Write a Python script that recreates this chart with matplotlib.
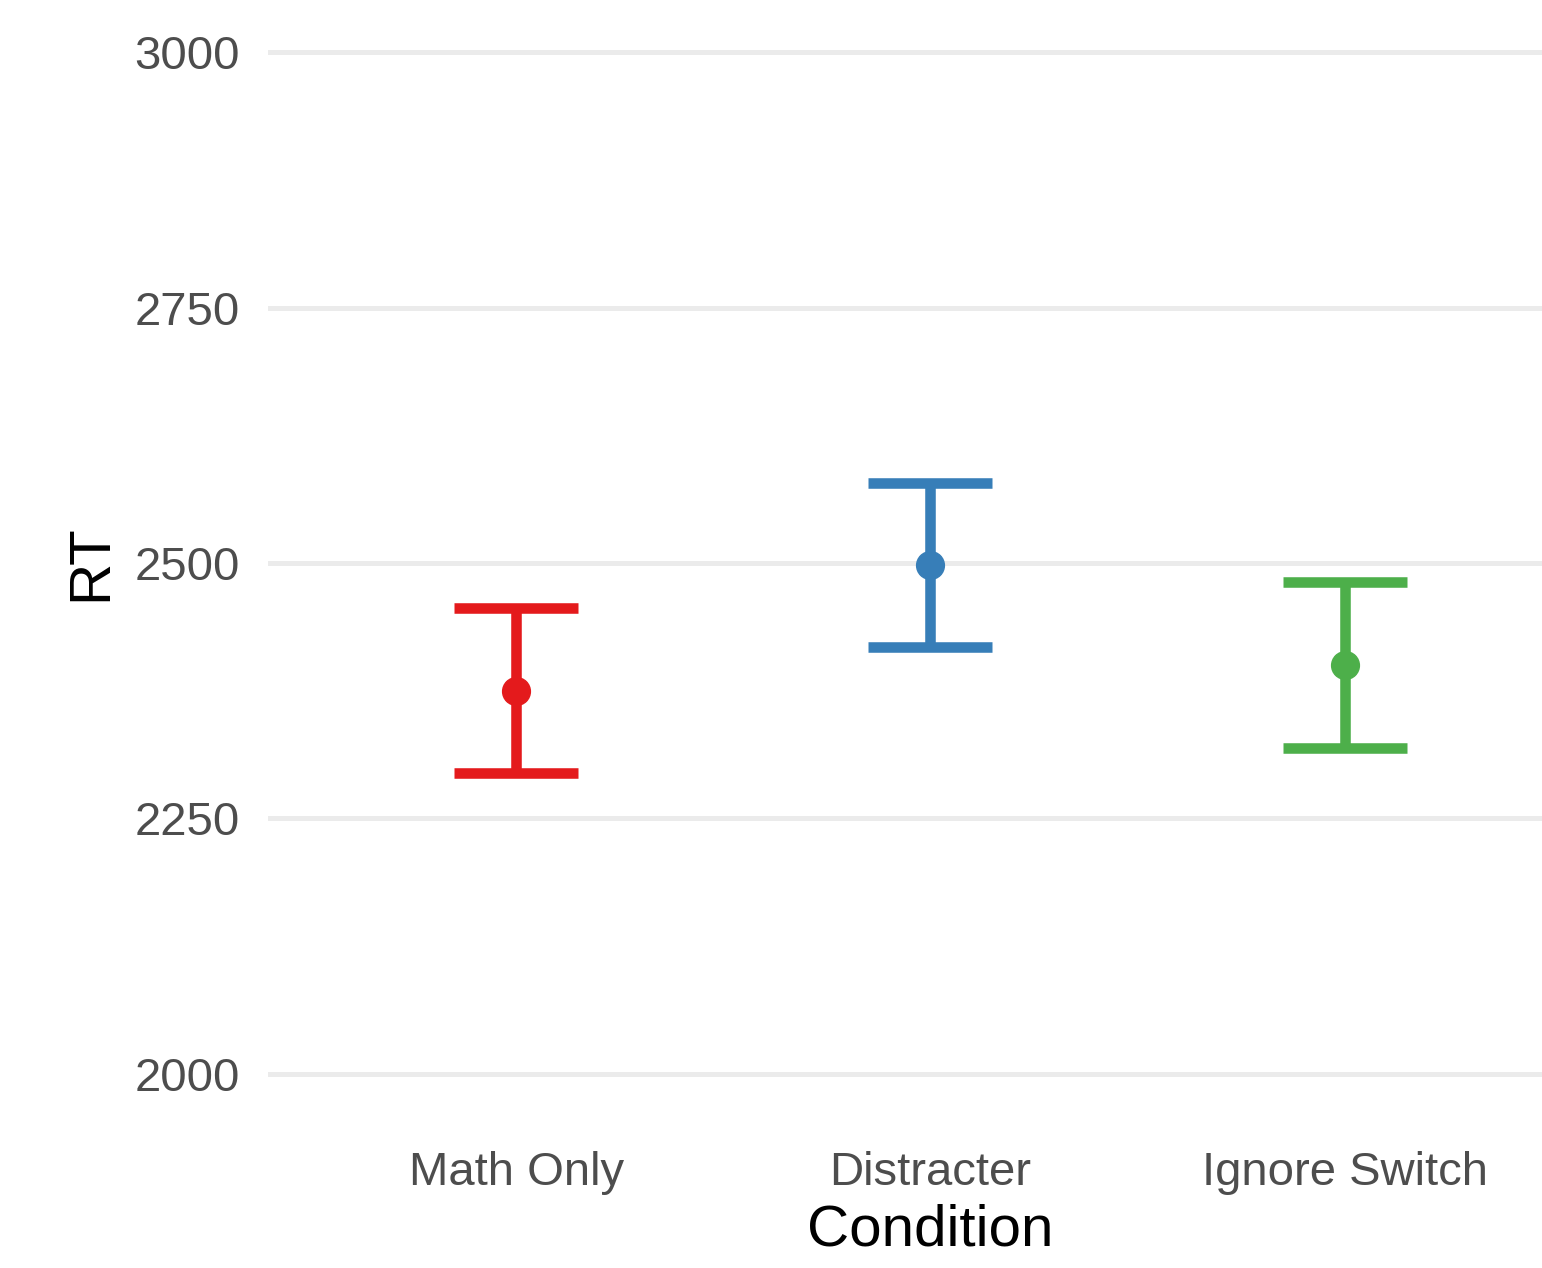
import numpy as np
import matplotlib.pyplot as plt

plt.rcParams['font.family'] = ['Liberation Sans', 'DejaVu Sans']

# mean RT and standard error per condition
conditions = ['Math Only', 'Distracter', 'Ignore Switch']
rt_mean = [2375, 2498, 2400]
rt_se = [81, 80, 81]
colors = ['#E41A1C', '#377EB8', '#4DAF4A']
yticks = [2000, 2250, 2500, 2750, 3000]

fig = plt.figure(figsize=(15.42, 12.68), dpi=100)
# panel runs a little past the right edge of the canvas
ax = fig.add_axes([268 / 1542, 1 - 1125 / 1268, (1593 - 268) / 1542, 1124 / 1268])

x = np.arange(1, len(conditions) + 1)
for xi, m, se, c in zip(x, rt_mean, rt_se, colors):
    ax.errorbar(xi, m, yerr=se, fmt='o', color=c, ecolor=c, markersize=20,
                elinewidth=7.6, capsize=44.6, capthick=7.6, zorder=3)

ax.set_xlim(0.4, 3.6)
ax.set_ylim(1950, 3050)
ax.set_yticks(yticks)
ax.set_xticks(x)
ax.set_xticklabels(conditions)

ax.grid(axis='y', color='#EBEBEB', linewidth=3.6)
ax.grid(axis='x', visible=False)
ax.set_axisbelow(True)
for s in ax.spines.values():
    s.set_visible(False)

ax.tick_params(axis='both', length=0, labelsize=34, labelcolor='#4D4D4D')
ax.tick_params(axis='y', pad=20)
ax.tick_params(axis='x', pad=19)

ax.set_xlabel('Condition', fontsize=42, labelpad=6)
ax.set_ylabel('RT', fontsize=42, labelpad=12)

fig.savefig('out.png', dpi=100)
